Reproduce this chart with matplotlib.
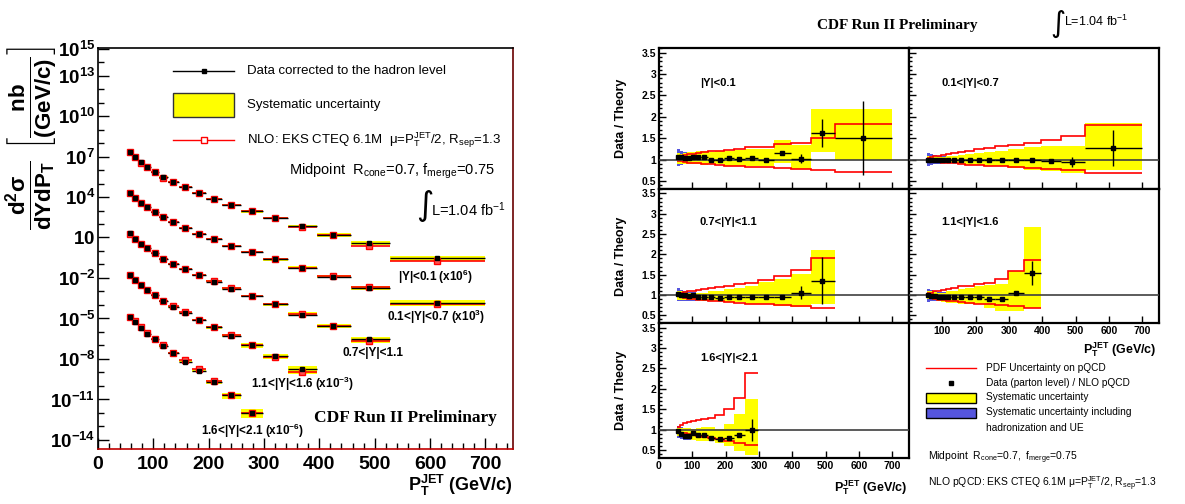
import numpy as np
import matplotlib
matplotlib.use("Agg")
import matplotlib.pyplot as plt
from matplotlib.lines import Line2D
from matplotlib.patches import Rectangle
from matplotlib.ticker import FixedLocator, FixedFormatter, MultipleLocator, NullFormatter

plt.rcParams["font.family"] = ["Liberation Sans", "DejaVu Sans"]
plt.rcParams["mathtext.fontset"] = "custom"
plt.rcParams["mathtext.rm"] = "Liberation Sans"
plt.rcParams["mathtext.it"] = "Liberation Sans"
plt.rcParams["mathtext.bf"] = "Liberation Sans:bold"
plt.rcParams["mathtext.sf"] = "Liberation Sans"

# --- data ------------------------------------------------------------------
edges = [54, 62, 72, 83, 96, 110, 127, 146, 169, 195, 224, 259, 298, 344, 396, 457, 527, 700]
centers = [58, 67, 77, 89, 103, 118, 136, 157, 182, 209, 241, 278, 320, 369, 425, 490, 613]
labels = ["|Y|<0.1", "0.1<|Y|<0.7", "0.7<|Y|<1.1", "1.1<|Y|<1.6", "1.6<|Y|<2.1"]

# cross sections (nb/(GeV/c)), already scaled by the factor shown on the plot
xsec_y1 = [2.3e7, 1.0e7, 3.7e6, 1.8e6, 7.1e5, 2.9e5, 1.3e5, 5.2e4, 2.0e4, 7.4e3, 2.7e3,
           8.7e2, 2.6e2, 71, 15.5, 4.1, 0.29]
xsec_y2 = [2.1e4, 8.9e3, 3.8e3, 1.7e3, 7.4e2, 3.3e2, 1.35e2, 50, 19, 7.4, 2.45, 0.79,
           0.24, 5.8e-2, 1.26e-2, 1.9e-3, 1.5e-4]
xsec_y3 = [20, 8.1, 3.5, 1.6, 0.68, 0.26, 0.11, 4.4e-2, 1.6e-2, 5.4e-3, 1.6e-3, 4.4e-4,
           1.1e-4, 1.9e-5, 2.8e-6, 2.9e-7]
xsec_y4 = [1.7e-2, 7.1e-3, 3.0e-3, 1.3e-3, 5.2e-4, 2.0e-4, 7.4e-5, 2.7e-5, 7.8e-6, 2.2e-6,
           5.4e-7, 1.0e-7, 1.6e-8, 1.8e-9]
xsec_y5 = [1.2e-5, 5.5e-6, 2.1e-6, 7.1e-7, 2.9e-7, 9.1e-8, 2.6e-8, 6.3e-9, 1.3e-9, 2.0e-10,
           2.0e-11, 1.05e-12]

# data / theory
ratio_y1 = [1.06, 1.05, 1.03, 1.03, 1.05, 1.06, 1.07, 1.00, 1.00, 1.04, 1.02, 1.03, 1.00, 1.16, 1.02, 1.62, 1.50]
ratio_y2 = [1.00, 1.00, 0.99, 0.99, 0.99, 1.00, 1.00, 0.99, 0.99, 0.99, 0.99, 0.99, 1.00, 0.99, 0.96, 0.945, 1.27]
ratio_y3 = [1.02, 1.00, 1.00, 0.98, 0.99, 0.96, 0.96, 0.94, 0.93, 0.94, 0.94, 0.94, 0.96, 0.95, 1.06, 1.35]
ratio_y4 = [1.01, 0.98, 0.97, 0.96, 0.95, 0.94, 0.95, 0.96, 0.94, 0.94, 0.90, 0.89, 1.05, 1.54]
ratio_y5 = [0.96, 0.90, 0.86, 0.85, 0.91, 0.87, 0.87, 0.80, 0.77, 0.80, 0.87, 1.00]

stat_y1 = [0.01] * 12 + [0.02, 0.04, 0.11, 0.33, 0.86]
stat_y2 = [0.01] * 12 + [0.01, 0.02, 0.04, 0.11, 0.41]
stat_y3 = [0.01] * 12 + [0.02, 0.03, 0.15, 0.58]
stat_y4 = [0.01] * 11 + [0.02, 0.05, 0.30]
stat_y5 = [0.01] * 10 + [0.03, 0.27]

# systematic uncertainty band (yellow), in ratio units
syslo_y1 = [0.90, 0.90, 0.90, 0.90, 0.90, 0.90, 0.88, 0.90, 0.89, 0.86, 0.84, 0.84, 0.84, 0.91, 0.78, 1.17, 0.99]
syshi_y1 = [1.15, 1.13, 1.15, 1.17, 1.17, 1.21, 1.21, 1.17, 1.19, 1.21, 1.23, 1.25, 1.25, 1.45, 1.35, 2.18, 2.18]
syslo_y2 = [0.91, 0.91, 0.92, 0.92, 0.92, 0.92, 0.92, 0.90, 0.88, 0.87, 0.86, 0.84, 0.80, 0.76, 0.72, 0.68, 0.76]
syshi_y2 = [1.09, 1.08, 1.08, 1.07, 1.07, 1.08, 1.09, 1.11, 1.13, 1.15, 1.17, 1.21, 1.25, 1.29, 1.31, 1.31, 1.86]
syslo_y3 = [0.87, 0.88, 0.88, 0.88, 0.87, 0.87, 0.86, 0.86, 0.85, 0.83, 0.82, 0.79, 0.77, 0.73, 0.71, 0.77]
syshi_y3 = [1.11, 1.09, 1.07, 1.06, 1.06, 1.05, 1.06, 1.09, 1.11, 1.14, 1.18, 1.23, 1.31, 1.39, 1.51, 2.12]
syslo_y4 = [0.89, 0.89, 0.87, 0.85, 0.83, 0.81, 0.80, 0.79, 0.78, 0.77, 0.69, 0.61, 0.61, 0.67]
syshi_y4 = [1.10, 1.09, 1.07, 1.06, 1.06, 1.09, 1.10, 1.15, 1.18, 1.22, 1.25, 1.26, 1.60, 2.67]
syslo_y5 = [0.86, 0.82, 0.80, 0.77, 0.75, 0.73, 0.72, 0.72, 0.68, 0.60, 0.48, 0.38]
syshi_y5 = [1.05, 1.05, 1.04, 1.04, 1.03, 1.04, 1.07, 1.07, 1.01, 1.13, 1.38, 1.76]

# PDF uncertainty on pQCD (red steps)
pdflo_y1 = [0.97, 0.96, 0.94, 0.93, 0.92, 0.91, 0.90, 0.89, 0.87, 0.86, 0.84, 0.83, 0.82, 0.79, 0.77, 0.76, 0.70]
pdfhi_y1 = [1.08, 1.09, 1.11, 1.12, 1.13, 1.16, 1.17, 1.19, 1.21, 1.23, 1.25, 1.29, 1.29, 1.36, 1.38, 1.50, 1.82]
pdflo_y2 = [0.98, 0.96, 0.95, 0.94, 0.93, 0.92, 0.91, 0.90, 0.88, 0.87, 0.85, 0.84, 0.82, 0.80, 0.77, 0.76, 0.69]
pdfhi_y2 = [1.03, 1.05, 1.08, 1.09, 1.11, 1.13, 1.15, 1.17, 1.20, 1.24, 1.27, 1.31, 1.35, 1.38, 1.45, 1.54, 1.80]
pdflo_y3 = [0.98, 0.94, 0.93, 0.91, 0.90, 0.88, 0.87, 0.86, 0.84, 0.82, 0.81, 0.79, 0.77, 0.75, 0.73, 0.67]
pdfhi_y3 = [1.05, 1.06, 1.08, 1.09, 1.11, 1.13, 1.15, 1.17, 1.20, 1.23, 1.26, 1.30, 1.37, 1.47, 1.62, 1.90]
pdflo_y4 = [0.97, 0.93, 0.90, 0.88, 0.87, 0.86, 0.84, 0.83, 0.81, 0.79, 0.78, 0.76, 0.74, 0.68]
pdfhi_y4 = [1.04, 1.06, 1.09, 1.11, 1.13, 1.15, 1.17, 1.21, 1.23, 1.27, 1.30, 1.40, 1.58, 1.86]
pdflo_y5 = [0.96, 0.93, 0.91, 0.89, 0.87, 0.85, 0.83, 0.81, 0.78, 0.73, 0.68, 0.62]
pdfhi_y5 = [1.07, 1.12, 1.17, 1.20, 1.22, 1.24, 1.26, 1.29, 1.35, 1.50, 1.78, 2.40]

# systematic incl. hadronization and UE (blue), first bins only
hadlo_y1 = [0.86, 0.88, 0.89, 0.89, 0.90]
hadhi_y1 = [1.24, 1.20, 1.17, 1.16, 1.16]
hadlo_y2 = [0.84, 0.87, 0.89, 0.90, 0.91]
hadhi_y2 = [1.16, 1.13, 1.11, 1.09, 1.08]
hadlo_y3 = [0.85, 0.86, 0.86, 0.86, 0.86]
hadhi_y3 = [1.17, 1.13, 1.10, 1.08, 1.07]
hadlo_y4 = [0.83, 0.85, 0.86, 0.86, 0.86]
hadhi_y4 = [1.15, 1.12, 1.10, 1.08, 1.07]
hadlo_y5 = [0.80, 0.77, 0.76, 0.75, 0.74, 0.73, 0.73]
hadhi_y5 = [1.09, 1.07, 1.05, 1.04, 1.03, 1.04, 1.06]

YELLOW, RED, BLUE = "#ffff00", "#ff0000", "#5555dd"
W, H = 1185, 504


def rect(x0, y0, w, h):
    return [x0 / W, 1 - (y0 + h) / H, w / W, h / H]


def fx(px):
    return px / W


def fy(py):
    return 1 - py / H


fig = plt.figure(figsize=(W / 100, H / 100), dpi=100)

# ============================ left: cross sections ==========================
ax = fig.add_axes(rect(98, 48, 415, 401))
ax.set_yscale("log")
left_series = [(xsec_y1, ratio_y1, syslo_y1, syshi_y1),
               (xsec_y2, ratio_y2, syslo_y2, syshi_y2),
               (xsec_y3, ratio_y3, syslo_y3, syshi_y3),
               (xsec_y4, ratio_y4, syslo_y4, syshi_y4),
               (xsec_y5, ratio_y5, syslo_y5, syshi_y5)]
for xs, rat, slo, shi in left_series:
    n = len(xs)
    e = np.array(edges[:n + 1], float)
    xs, rat = np.array(xs), np.array(rat)
    theory = xs / rat
    ax.bar(e[:-1], theory * (np.array(shi) - np.array(slo)), bottom=theory * np.array(slo),
           width=np.diff(e), align="edge", color=YELLOW, lw=0, zorder=1)
    ax.hlines(theory, e[:-1], e[1:], color=RED, lw=1.2, zorder=2)
    ax.hlines(xs, e[:-1], e[1:], color="black", lw=1.0, zorder=3)
    ax.plot(centers[:n], theory, "s", ms=5, mfc="#ff5050", mec=RED, mew=1, zorder=4)
    ax.plot(centers[:n], xs, "s", ms=2.2, color="black", zorder=5)

ax.set_xlim(0, 750)
ax.set_ylim(10 ** -14.67, 10 ** 15.04)
ylab_exp = [15, 13, 10, 7, 4, 1, -2, -5, -8, -11, -14]
ax.yaxis.set_major_locator(FixedLocator([10.0 ** k for k in ylab_exp]))
ax.yaxis.set_major_formatter(FixedFormatter(
    [r"$\mathbf{10}$" if k == 1 else r"$\mathbf{10^{%d}}$" % k for k in ylab_exp]))
ax.yaxis.set_minor_locator(FixedLocator([10.0 ** k for k in range(-14, 16)]))
ax.yaxis.set_minor_formatter(NullFormatter())
ax.xaxis.set_major_locator(MultipleLocator(100))
ax.xaxis.set_minor_locator(MultipleLocator(20))
ax.tick_params(which="both", direction="in", top=False, right=False)
ax.tick_params(which="major", length=8, width=1)
ax.tick_params(which="minor", length=4, width=1)
ax.tick_params(axis="y", labelsize=13.5, pad=2)
ax.tick_params(axis="x", labelsize=14, pad=5)
for t in ax.get_xticklabels():
    t.set_fontweight("bold")
ax.spines["bottom"].set_color("#c00000")
ax.spines["right"].set_color("#6a0000")
for s in ax.spines.values():
    s.set_linewidth(1.2)

fig.text(fx(32), fy(138),
         r"$\mathbf{\frac{d^{2}\sigma}{dYdP_{T}}\ \left[\frac{nb}{(GeV/c)}\right]}$",
         rotation=90, ha="center", va="center", fontsize=23)
fig.text(fx(513), fy(485), r"$\mathbf{P_{T}^{JET}}$ (GeV/c)", ha="right", va="center",
         fontsize=13, fontweight="bold")

# legend of the left panel
fig.add_artist(Line2D([fx(173), fx(234)], [fy(71), fy(71)], color="black", lw=1))
fig.add_artist(Line2D([fx(204)], [fy(71)], marker="s", ms=2.5, color="black"))
fig.add_artist(Rectangle((fx(173), fy(117)), fx(61), 24 / H, facecolor=YELLOW,
                         edgecolor="#333333", lw=1, transform=fig.transFigure))
fig.add_artist(Line2D([fx(173), fx(234)], [fy(140), fy(140)], color=RED, lw=1))
fig.add_artist(Line2D([fx(204)], [fy(140)], marker="s", ms=4, mfc="white", mec=RED, mew=1))
fig.text(fx(247), fy(71), "Data corrected to the hadron level", va="center", fontsize=9.5)
fig.text(fx(247), fy(105), "Systematic uncertainty", va="center", fontsize=9.5)
fig.text(fx(247), fy(140), r"NLO: EKS CTEQ 6.1M  $\mu$=P$_{T}^{JET}$/2, R$_{sep}$=1.3",
         va="center", fontsize=9.5)
fig.text(fx(495), fy(171), r"Midpoint  R$_{cone}$=0.7, f$_{merge}$=0.75", ha="right",
         va="center", fontsize=10.5)
fig.text(fx(416), fy(205), "\u222b", ha="left", va="center", fontsize=24,
         family="DejaVu Sans")
fig.text(fx(431), fy(210), r"L=1.04 fb$^{-1}$", va="center", fontsize=10.5)

left_tags = [(r"|Y|<0.1 (x10$^{\mathbf{6}}$)", 435, 277),
             (r"0.1<|Y|<0.7 (x10$^{\mathbf{3}}$)", 436, 317),
             ("0.7<|Y|<1.1", 373, 353),
             (r"1.1<|Y|<1.6 (x10$^{\mathbf{-3}}$)", 302, 384),
             (r"1.6<|Y|<2.1 (x10$^{\mathbf{-6}}$)", 252, 431)]
for txt, px, py in left_tags:
    fig.text(fx(px), fy(py), txt, ha="center", va="center", fontsize=8.5,
             fontweight="bold")
fig.text(fx(405), fy(418), "CDF Run II Preliminary", ha="center", va="center",
         fontsize=12.5, fontweight="bold", family="Liberation Serif")

# ============================ right: data / theory ==========================
panels = [(ratio_y1, stat_y1, syslo_y1, syshi_y1, pdflo_y1, pdfhi_y1, hadlo_y1, hadhi_y1),
          (ratio_y2, stat_y2, syslo_y2, syshi_y2, pdflo_y2, pdfhi_y2, hadlo_y2, hadhi_y2),
          (ratio_y3, stat_y3, syslo_y3, syshi_y3, pdflo_y3, pdfhi_y3, hadlo_y3, hadhi_y3),
          (ratio_y4, stat_y4, syslo_y4, syshi_y4, pdflo_y4, pdfhi_y4, hadlo_y4, hadhi_y4),
          (ratio_y5, stat_y5, syslo_y5, syshi_y5, pdflo_y5, pdfhi_y5, hadlo_y5, hadhi_y5)]
col_x = [659, 909]
row_y = [(48, 141), (189, 134), (323, 135)]
label_y = [83, 222, 358]

for i, (rat, stat, slo, shi, plo, phi, hlo, hhi) in enumerate(panels):
    r, c = divmod(i, 2)
    y0, h = row_y[r]
    axr = fig.add_axes(rect(col_x[c], y0, 250, h))
    n = len(rat)
    e = np.array(edges[:n + 1], float)
    w = np.diff(e)
    nh = len(hlo)
    axr.bar(e[:nh], np.array(hhi) - np.array(hlo), bottom=hlo, width=w[:nh], align="edge",
            color=BLUE, lw=0, zorder=1)
    axr.bar(e[:-1], np.array(shi) - np.array(slo), bottom=slo, width=w, align="edge",
            color=YELLOW, lw=0, zorder=2)
    axr.stairs(phi, e, baseline=None, color=RED, lw=1.2, zorder=3)
    axr.stairs(plo, e, baseline=None, color=RED, lw=1.2, zorder=3)
    axr.axhline(1, color="0.25", lw=1.2, zorder=4)
    cx = np.array(centers[:n], float)
    axr.errorbar(cx, rat, yerr=stat, xerr=[cx - e[:-1], e[1:] - cx], fmt="s", ms=3.2,
                 color="black", ecolor="black", elinewidth=1, capsize=0, zorder=5)
    axr.set_xlim(0, 750)
    axr.set_ylim(0.31, 3.61)
    axr.yaxis.set_major_locator(MultipleLocator(0.5))
    axr.yaxis.set_minor_locator(MultipleLocator(0.1))
    axr.xaxis.set_major_locator(MultipleLocator(100))
    axr.tick_params(which="both", direction="in", top=False, right=False)
    axr.tick_params(which="major", length=5, width=1)
    axr.tick_params(which="minor", length=2.5, width=1)
    axr.tick_params(labelsize=7.5, pad=2)
    axr.yaxis.set_major_formatter(plt.FuncFormatter(lambda v, p: f"{v:g}"))
    for s in axr.spines.values():
        s.set_linewidth(1.6)
    if c == 0:
        axr.set_ylabel("Data / Theory", fontsize=9, fontweight="bold")
        axr.yaxis.set_label_coords(-0.128, 0.5)
    else:
        axr.tick_params(labelleft=False)
    if i == 3:
        axr.xaxis.set_major_formatter(
            plt.FuncFormatter(lambda v, p: "" if v == 0 else f"{v:g}"))
    elif i != 4:
        axr.tick_params(labelbottom=False)
    for t in axr.get_xticklabels() + axr.get_yticklabels():
        t.set_fontweight("bold")
    fig.text(fx(col_x[c] + (41 if c == 0 else 32)), fy(label_y[r]), labels[i],
             ha="left", va="center", fontsize=8, fontweight="bold")

fig.text(fx(1157), fy(350), r"$\mathbf{P_{T}^{JET}}$ (GeV/c)", ha="right", va="center",
         fontsize=9, fontweight="bold")
fig.text(fx(908), fy(488), r"$\mathbf{P_{T}^{JET}}$ (GeV/c)", ha="right", va="center",
         fontsize=9, fontweight="bold")

fig.text(fx(897), fy(25), "CDF Run II Preliminary", ha="center", va="center",
         fontsize=11, fontweight="bold", family="Liberation Serif")
fig.text(fx(1050), fy(24), "\u222b", ha="left", va="center", fontsize=21,
         family="DejaVu Sans")
fig.text(fx(1064), fy(21), r"L=1.04 fb$^{-1}$", va="center", fontsize=9)

# legend of the ratio panels
fig.add_artist(Line2D([fx(926), fx(976)], [fy(368), fy(368)], color=RED, lw=1))
fig.add_artist(Line2D([fx(951)], [fy(383)], marker="s", ms=3, color="black"))
fig.add_artist(Rectangle((fx(926), fy(403)), fx(50), 10 / H, facecolor=YELLOW,
                         edgecolor="black", lw=1, transform=fig.transFigure))
fig.add_artist(Rectangle((fx(926), fy(418)), fx(50), 10 / H, facecolor=BLUE,
                         edgecolor="black", lw=1, transform=fig.transFigure))
legend_lines = [("PDF Uncertainty on pQCD", 368), ("Data (parton level) / NLO pQCD", 383),
                ("Systematic uncertainty", 397), ("Systematic uncertainty including", 412),
                ("hadronization and UE", 428)]
for txt, py in legend_lines:
    fig.text(fx(986), fy(py), txt, va="center", fontsize=7.3)
fig.text(fx(928), fy(458), r"Midpoint  R$_{cone}$=0.7,  f$_{merge}$=0.75", va="center",
         fontsize=7.5)
fig.text(fx(928), fy(484),
         r"NLO pQCD: EKS CTEQ 6.1M $\mu$=P$_{T}^{JET}$/2, R$_{sep}$=1.3", va="center",
         fontsize=7.5)

fig.savefig("out.png", dpi=100)
